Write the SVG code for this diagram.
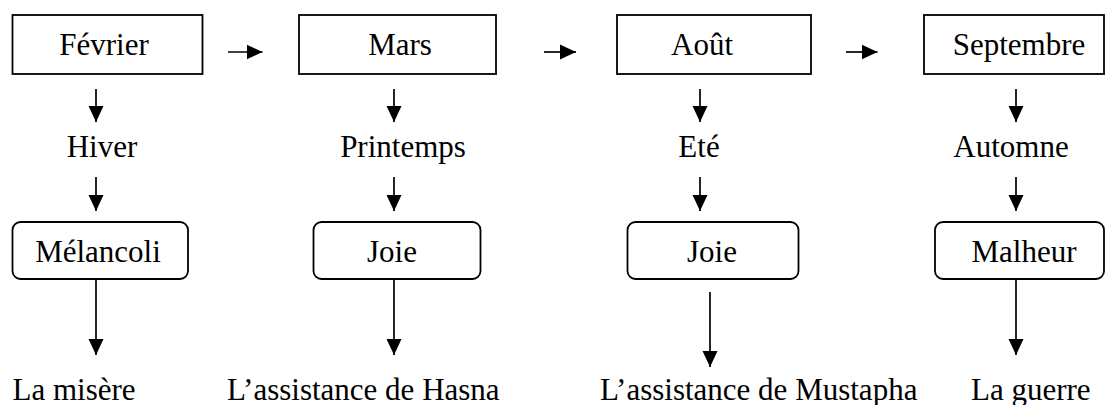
<svg xmlns="http://www.w3.org/2000/svg" width="1106" height="405" viewBox="0 0 1106 405">
<style>
.box{fill:#fff;stroke:#000;stroke-width:1.8}
.t{font-family:"Liberation Serif","Times New Roman",serif;font-size:31px;fill:#000}
.m{text-anchor:middle}
.c{stroke:#000;stroke-width:1.7;fill:none;marker-end:url(#ah)}
</style>
<defs>
<marker id="ah" markerUnits="userSpaceOnUse" markerWidth="16" markerHeight="16" viewBox="0 0 16 16" refX="16" refY="8" orient="auto">
<path d="M0,0.5 L16,8 L0,15.5 Z" fill="#000"/>
</marker>
</defs>
<rect width="1106" height="405" fill="#fff"/>
<g id="connectors">
<line class="c" x1="228" y1="52" x2="262.5" y2="52"/>
<line class="c" x1="544" y1="52" x2="576" y2="52"/>
<line class="c" x1="846" y1="52" x2="877.5" y2="52"/>
<line class="c" x1="96" y1="89" x2="96" y2="122"/>
<line class="c" x1="394" y1="89" x2="394" y2="122"/>
<line class="c" x1="700" y1="89" x2="700" y2="122"/>
<line class="c" x1="1016" y1="89" x2="1016" y2="122"/>
<line class="c" x1="96" y1="177" x2="96" y2="211"/>
<line class="c" x1="394" y1="177" x2="394" y2="211"/>
<line class="c" x1="700" y1="177" x2="700" y2="211"/>
<line class="c" x1="1016" y1="177" x2="1016" y2="211"/>
<line class="c" x1="96" y1="279" x2="96" y2="355"/>
<line class="c" x1="394" y1="279" x2="394" y2="355"/>
<line class="c" x1="710" y1="292" x2="710" y2="367"/>
<line class="c" x1="1016" y1="280" x2="1016" y2="355"/>
</g>
<g id="fevrier"><rect class="box" x="12.5" y="15" width="190" height="59"/><text class="t m" x="104" y="55">Février</text></g>
<g id="mars"><rect class="box" x="299" y="15" width="197" height="59"/><text class="t m" x="400" y="55">Mars</text></g>
<g id="aout"><rect class="box" x="617" y="15" width="194" height="59"/><text class="t m" x="702" y="55">Août</text></g>
<g id="septembre"><rect class="box" x="924" y="15" width="180" height="59"/><text class="t m" x="1019" y="55">Septembre</text></g>
<g id="hiver"><text class="t m" x="102" y="157">Hiver</text></g>
<g id="printemps"><text class="t m" x="403" y="157">Printemps</text></g>
<g id="ete"><text class="t m" x="699" y="157">Eté</text></g>
<g id="automne"><text class="t m" x="1011" y="157">Automne</text></g>
<g id="melancoli"><rect class="box" x="12.5" y="222" width="175.5" height="57" rx="8"/><text class="t m" x="98" y="262">Mélancoli</text></g>
<g id="joie1"><rect class="box" x="313.5" y="222" width="167" height="57" rx="8"/><text class="t m" x="392" y="262">Joie</text></g>
<g id="joie2"><rect class="box" x="627.5" y="222" width="171" height="57" rx="8"/><text class="t m" x="712" y="262">Joie</text></g>
<g id="malheur"><rect class="box" x="935" y="222" width="169" height="57" rx="8"/><text class="t m" x="1024" y="262">Malheur</text></g>
<g id="misere"><text class="t" x="12.5" y="400">La misère</text></g>
<g id="hasna"><text class="t" x="227" y="400">L’assistance de Hasna</text></g>
<g id="mustapha"><text class="t" x="600" y="400">L’assistance de Mustapha</text></g>
<g id="guerre"><text class="t" x="971" y="400">La guerre</text></g>
</svg>
